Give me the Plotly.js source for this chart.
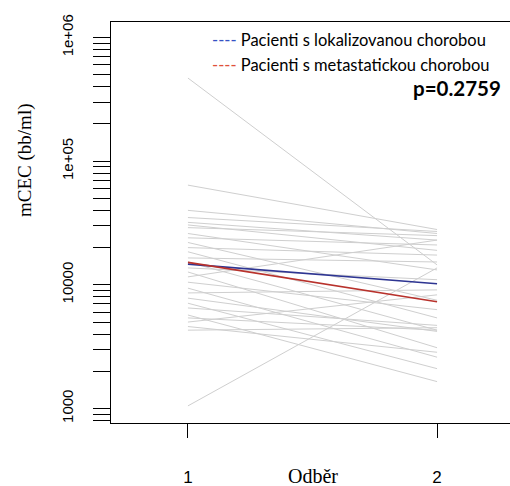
<!DOCTYPE html>
<html>
<head>
<meta charset="utf-8">
<script src="https://cdn.plot.ly/plotly-3.0.1.min.js"></script>
<style>
html, body { margin: 0; padding: 0; overflow: hidden; background: #fff; }
#chart { width: 520px; height: 486px; }
</style>
</head>
<body>
<div id="chart"></div>
<script>
// Sampling occasions (x axis)
const odber = [1, 2];
const odberLabels = ['1', '2'];

// Individual patients: mCEC (bb/ml) at occasion 1 and occasion 2
const patientStart = [470000, 64000, 40000, 35000, 32000, 30500, 29000, 26000, 24000, 22000,
  20000, 18500, 16500, 15300, 13700, 12700, 11600, 10500, 9400, 8600,
  7800, 7100, 6500, 5700, 5400, 5000, 4600, 4300, 1050];
const patientEnd = [14500, 28000, 26000, 27000, 23000, 19000, 25000, 13200, 21000, 7500,
  17400, 5400, 15300, 4300, 11000, 3100, 23000, 6300, 2600, 9100,
  4200, 2100, 4700, 1650, 4300, 8300, 2850, 4500, 13700];

// Group means
const meanLocalized = [14700, 10200];
const meanMetastatic = [15200, 7300];

// Y tick values and labels
const yTickVals = [800, 900, 1000, 2000, 3000, 4000, 5000, 6000, 7000, 8000, 9000,
  10000, 20000, 30000, 40000, 50000, 60000, 70000, 80000, 90000,
  100000, 200000, 300000, 400000, 500000, 600000, 700000, 800000, 900000, 1000000];
const yTickText = ['', '', '1000', '', '', '', '', '', '', '', '',
  '10000', '', '', '', '', '', '', '', '',
  '1e+05', '', '', '', '', '', '', '', '', '1e+06'];

const legendLoc = 'Pacienti s lokalizovanou chorobou';
const legendMet = 'Pacienti s metastatickou chorobou';
const pText = 'p=0.2759';
const xTitle = 'Odběr';
const yTitle = 'mCEC (bb/ml)';

const traces = [];
for (let i = 0; i < patientStart.length; i++) {
  traces.push({
    x: odber, y: [patientStart[i], patientEnd[i]],
    type: 'scatter', mode: 'lines',
    line: { color: '#cfcfcf', width: 1 },
    hoverinfo: 'y', showlegend: false
  });
}
traces.push({ x: odber, y: meanLocalized, type: 'scatter', mode: 'lines',
  line: { color: '#2e3592', width: 1.6 }, name: legendLoc, showlegend: false });
traces.push({ x: odber, y: meanMetastatic, type: 'scatter', mode: 'lines',
  line: { color: '#b8322c', width: 1.6 }, name: legendMet, showlegend: false });

const layout = {
  width: 520, height: 486,
  margin: { l: 111, r: 6, t: 22, b: 63 },
  paper_bgcolor: '#ffffff', plot_bgcolor: '#ffffff',
  showlegend: false,
  font: { family: 'Liberation Sans, Arial, sans-serif', color: '#000' },
  xaxis: {
    range: [0.691, 2.309],
    tickvals: odber, ticktext: odberLabels,
    ticks: 'outside', ticklen: 14, tickcolor: '#000', tickwidth: 1,
    ticklabelstandoff: 25,
    tickfont: { family: 'Liberation Sans, Arial, sans-serif', size: 17, color: '#000' },
    showgrid: false, zeroline: false,
    showline: true, linecolor: '#000', linewidth: 1, mirror: true
  },
  yaxis: {
    type: 'log',
    range: [2.8827, 6.1253],
    tickvals: yTickVals, ticktext: yTickText,
    tickangle: -90,
    ticks: 'outside', ticklen: 17, tickcolor: '#000', tickwidth: 1,
    ticklabelstandoff: 14,
    tickfont: { family: 'Liberation Sans, Arial, sans-serif', size: 15, color: '#000' },
    showgrid: false, zeroline: false,
    showline: true, linecolor: '#000', linewidth: 1, mirror: true
  },
  annotations: [
    { xref: 'paper', yref: 'paper', x: 0.2457, y: 0.955, xanchor: 'left', yanchor: 'middle',
      showarrow: false, text: "<span style='color:#3552c4'>----</span> " + legendLoc,
      font: { family: 'Lato, Open Sans, sans-serif', size: 16.5, color: '#000' } },
    { xref: 'paper', yref: 'paper', x: 0.2457, y: 0.8928, xanchor: 'left', yanchor: 'middle',
      showarrow: false, text: "<span style='color:#e0503a'>----</span> " + legendMet,
      font: { family: 'Lato, Open Sans, sans-serif', size: 16.5, color: '#000' } },
    { xref: 'paper', yref: 'paper', x: 0.972, y: 0.8354, xanchor: 'right', yanchor: 'middle',
      showarrow: false, text: '<b>' + pText + '</b>',
      font: { family: 'Lato, Open Sans, sans-serif', size: 20.5, color: '#000' } },
    { xref: 'paper', yref: 'paper', x: 0.5012, y: -0.1322, xanchor: 'center', yanchor: 'middle',
      showarrow: false, text: xTitle,
      font: { family: 'Liberation Serif, Times New Roman, serif', size: 20, color: '#000' } },
    { xref: 'paper', yref: 'paper', x: -0.2134, y: 0.6559, xanchor: 'center', yanchor: 'middle',
      showarrow: false, text: yTitle, textangle: -90,
      font: { family: 'Liberation Serif, Times New Roman, serif', size: 19, color: '#000' } }
  ]
};

Plotly.newPlot('chart', traces, layout, { staticPlot: true, displayModeBar: false });
</script>
</body>
</html>
